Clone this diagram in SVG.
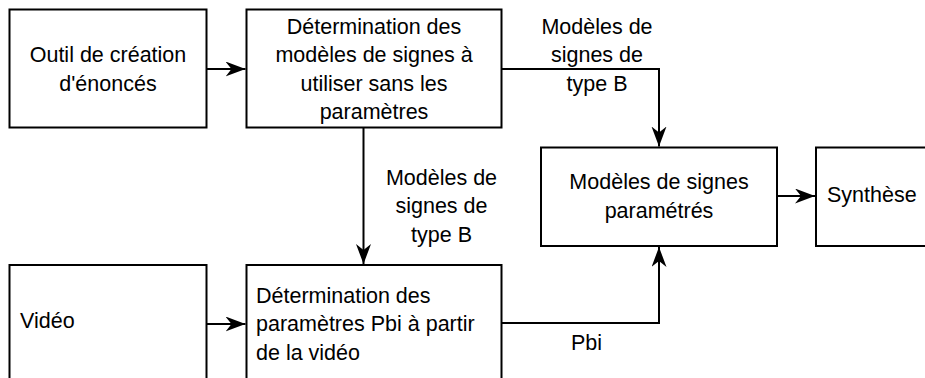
<svg xmlns="http://www.w3.org/2000/svg" width="925" height="378" viewBox="0 0 925 378">
  <style>
    .box { fill: #ffffff; stroke: #000000; stroke-width: 2; }
    .t { font-family: "Liberation Sans", Arial, Helvetica, sans-serif; font-size: 21.5px; fill: #000000; }
    .m { text-anchor: middle; }
    .edge { fill: none; stroke: #000000; stroke-width: 2; marker-end: url(#arrow); }
  </style>
  <defs>
    <marker id="arrow" markerUnits="userSpaceOnUse" markerWidth="22" markerHeight="16" refX="20" refY="7.5" orient="auto">
      <path d="M0,0 L20,7.5 L0,15 L6,7.5 Z" fill="#000000"/>
    </marker>
  </defs>
  <rect width="925" height="378" fill="#ffffff"/>

  <g id="connectors">
    <path class="edge" d="M206.5,69 H245.5"/>
    <path class="edge" d="M501.5,69 H659 V146.5"/>
    <path class="edge" d="M363.5,127.5 V264"/>
    <path class="edge" d="M206.5,324 H245.5"/>
    <path class="edge" d="M501.5,323 H659 V247"/>
    <path class="edge" d="M777,196 H815"/>
  </g>

  <g id="edge-labels">
    <text class="t m" x="597" y="33.5">Modèles de</text>
    <text class="t m" x="597" y="62">signes de</text>
    <text class="t m" x="597" y="90.5">type B</text>
    <text class="t m" x="441.5" y="185">Modèles de</text>
    <text class="t m" x="441.5" y="213">signes de</text>
    <text class="t m" x="441.5" y="241.5">type B</text>
    <text class="t m" x="586.5" y="350">Pbi</text>
  </g>

  <g id="outil">
    <rect class="box" x="9.5" y="9.5" width="197" height="118"/>
    <text class="t m" x="108" y="62">Outil de création</text>
    <text class="t m" x="108" y="90.5">d'énoncés</text>
  </g>

  <g id="determination-modeles">
    <rect class="box" x="246.5" y="9.5" width="255" height="118"/>
    <text class="t m" x="374" y="33.5">Détermination des</text>
    <text class="t m" x="374" y="62">modèles de signes à</text>
    <text class="t m" x="374" y="90.5">utiliser sans les</text>
    <text class="t m" x="374" y="119">paramètres</text>
  </g>

  <g id="modeles-parametres">
    <rect class="box" x="541" y="147.5" width="236" height="98.5"/>
    <text class="t m" x="659" y="189">Modèles de signes</text>
    <text class="t m" x="659" y="218">paramétrés</text>
  </g>

  <g id="synthese">
    <rect class="box" x="816" y="147.5" width="120" height="98.5"/>
    <text class="t" x="827" y="202">Synthèse</text>
  </g>

  <g id="video">
    <rect class="box" x="9.5" y="265" width="197" height="118"/>
    <text class="t" x="20" y="327.5">Vidéo</text>
  </g>

  <g id="determination-parametres">
    <rect class="box" x="246.5" y="265" width="255" height="118"/>
    <text class="t" x="256" y="302.5">Détermination des</text>
    <text class="t" x="256" y="331">paramètres Pbi à partir</text>
    <text class="t" x="256" y="359.5">de la vidéo</text>
  </g>
</svg>
